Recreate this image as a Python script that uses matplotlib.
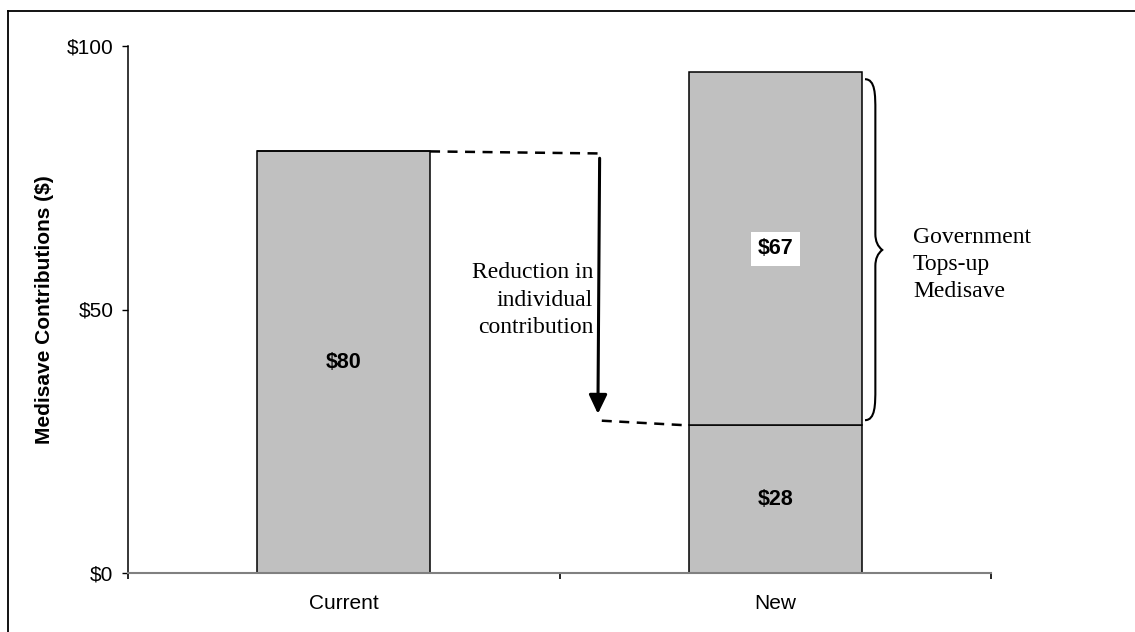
import matplotlib
matplotlib.use("Agg")
import matplotlib.pyplot as plt
from matplotlib.path import Path
from matplotlib.patches import PathPatch
from matplotlib.lines import Line2D

# ---- data ----
categories = ["Current", "New"]
individual = [80, 28]          # individual contribution
government = [0, 67]           # government top-up
bar_labels_individual = ["$80", "$28"]
bar_labels_government = [None, "$67"]
yticks = [0, 50, 100]
ytick_labels = ["$0", "$50", "$100"]
ylabel = "Medisave Contributions ($)"
reduction_text = "Reduction in\nindividual\ncontribution"
topup_text = "Government\nTops-up\nMedisave"

W, H = 1135, 632
fig = plt.figure(figsize=(W / 100, H / 100), dpi=100)
ax = fig.add_axes([128 / W, 1 - 573 / H, (991 - 128) / W, (573 - 46) / H])

sans = ["Liberation Sans", "DejaVu Sans"]
serif = ["Liberation Serif", "DejaVu Serif"]
grey = "#C0C0C0"
width = 0.4
x = list(range(len(categories)))

ax.bar(x, individual, width=width, color=grey, edgecolor="black", linewidth=1.1, zorder=2)
ax.bar(x, government, width=width, bottom=individual, color=grey, edgecolor="black",
       linewidth=1.1, zorder=2)

for i in x:
    ax.text(i, individual[i] / 2, bar_labels_individual[i], ha="center", va="center",
            fontsize=15.5, fontweight="bold", family=sans, zorder=4)
    if bar_labels_government[i]:
        ax.text(i, individual[i] + government[i] / 2, bar_labels_government[i],
                ha="center", va="center", fontsize=15.5, fontweight="bold", family=sans,
                zorder=4, bbox=dict(boxstyle="square,pad=0.3", fc="white", ec="none"))

ax.set_xlim(-0.5, 1.5)
ax.set_ylim(0, 100)
ax.set_xticks([-0.5, 0.5, 1.5], minor=False)
ax.set_xticklabels([])
ax.set_xticks(x, minor=True)
ax.set_xticklabels(categories, minor=True, fontsize=15, family=sans)
ax.tick_params(axis="x", which="minor", length=0, pad=15)
ax.tick_params(axis="x", which="major", length=4.5, width=1.2, direction="out", color="black")
ax.set_yticks(yticks)
ax.set_yticklabels(ytick_labels, fontsize=15, family=sans)
ax.tick_params(axis="y", length=4.5, width=1.0, direction="out", pad=6)
ax.set_ylabel(ylabel, fontsize=15, fontweight="bold", family=sans, labelpad=9)

for s in ["top", "right"]:
    ax.spines[s].set_visible(False)
ax.spines["left"].set_color("black")
ax.spines["left"].set_linewidth(1.1)
ax.spines["bottom"].set_color("#808080")
ax.spines["bottom"].set_linewidth(1.5)

# ---- annotations ----
cur_top = individual[0]
new_low = individual[1]
new_top = individual[1] + government[1]
xa = 0.593
ax.plot([width / 2, xa + 0.01], [cur_top, cur_top - 0.4], color="black", lw=1.8,
        ls=(0, (4, 3)), zorder=3, clip_on=False)
ax.plot([xa + 0.005, 1 - width / 2], [new_low + 0.9, new_low], color="black", lw=1.8,
        ls=(0, (4, 3)), zorder=3, clip_on=False)
ax.annotate("", xy=(xa - 0.004, new_low + 2.2), xytext=(xa, cur_top - 1.3),
            arrowprops=dict(arrowstyle="-|>,head_length=1.15,head_width=0.55",
                            color="black", lw=2.2, shrinkA=0, shrinkB=0))
ax.text(xa - 0.015, 51.8, reduction_text, ha="right", va="center", fontsize=17,
        family=serif, linespacing=1.38)

# curly brace
x0, x1, xt = 1.208, 1.232, 1.248
yb, ytop = new_low + 1.0, new_top - 1.3
ym = 61.3
verts = [
    (x0, ytop), (x1, ytop), (x1, ytop - 3), (x1, ytop - 6),
    (x1, ym + 3),
    (x1, ym + 1), (xt, ym),
    (x1, ym - 1), (x1, ym - 3),
    (x1, yb + 6),
    (x1, yb + 3), (x1, yb), (x0, yb),
]
codes = [Path.MOVETO, Path.CURVE4, Path.CURVE4, Path.CURVE4,
         Path.LINETO,
         Path.CURVE3, Path.CURVE3,
         Path.CURVE3, Path.CURVE3,
         Path.LINETO,
         Path.CURVE4, Path.CURVE4, Path.CURVE4]
ax.add_patch(PathPatch(Path(verts, codes), fill=False, ec="black", lw=1.5,
                       clip_on=False, zorder=3))
ax.text(1.319, 58.6, topup_text, ha="left", va="center", fontsize=17, family=serif,
        linespacing=1.38)

# outer frame (top and left edges)
fig.add_artist(Line2D([8 / W, 8 / W], [0, 1 - 11 / H], color="black", lw=1.3))
fig.add_artist(Line2D([8 / W, 1], [1 - 11 / H, 1 - 11 / H], color="black", lw=1.3))

fig.savefig("out.png", dpi=100)
